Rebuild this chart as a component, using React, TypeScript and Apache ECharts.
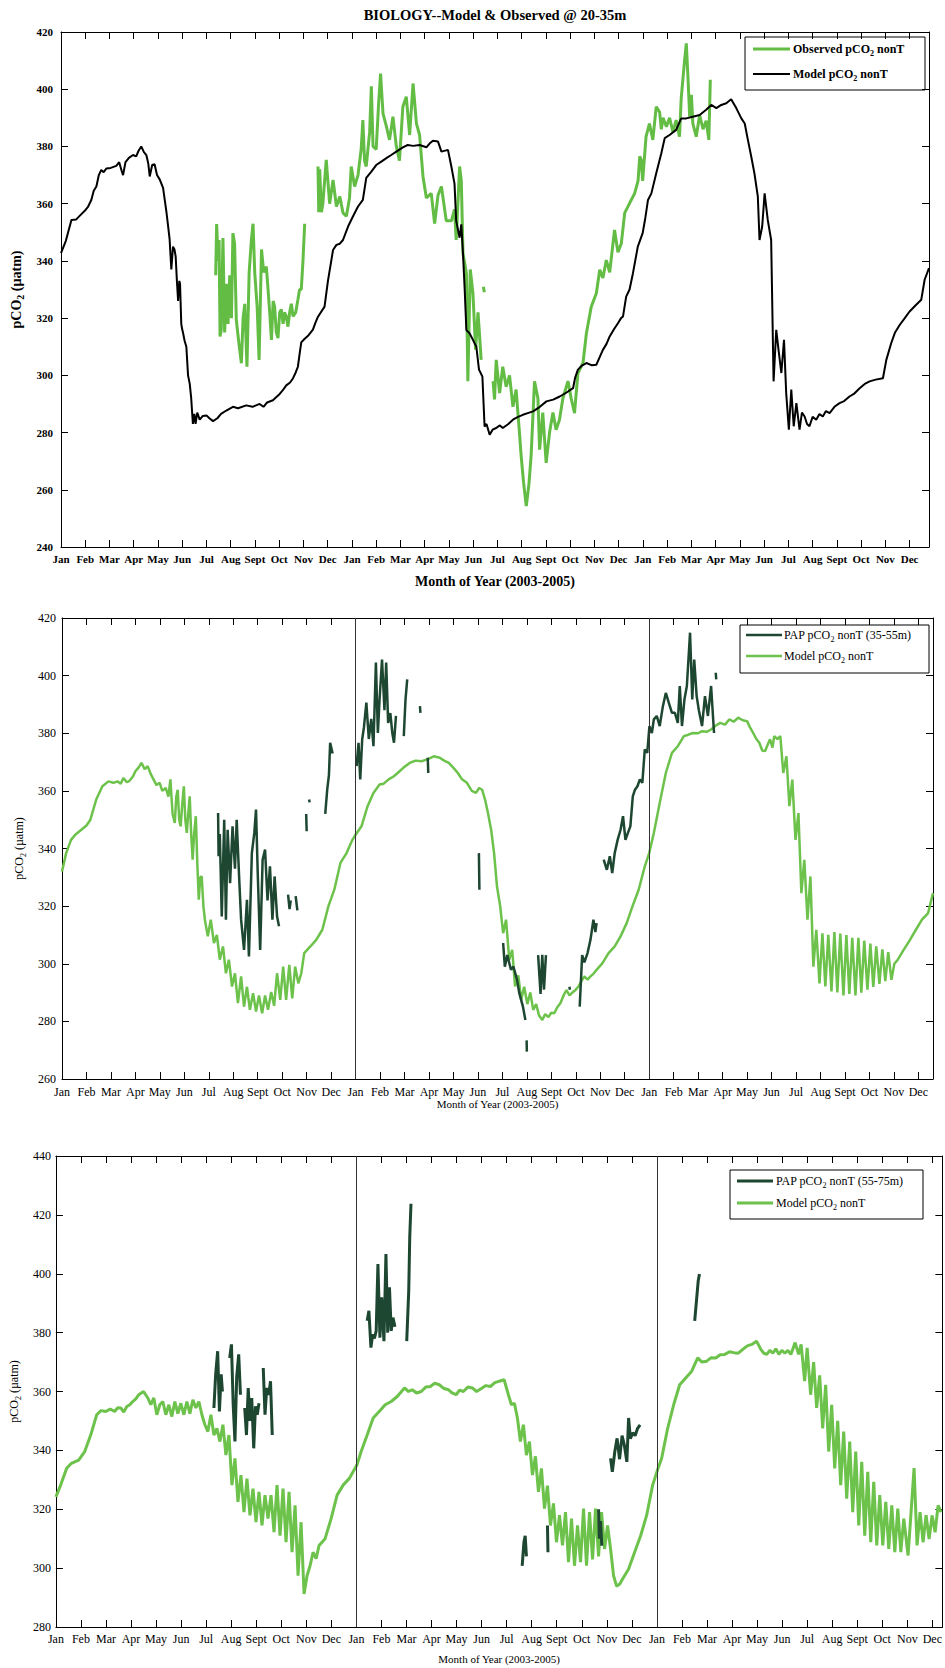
import { useEffect, useRef } from 'react';
import * as echarts from 'echarts';

type Pt = [number, number];

// Month index (0 = Jan 2003) on x, pCO2 in µatm on y.
const MONTHS = ['Jan', 'Feb', 'Mar', 'Apr', 'May', 'Jun', 'Jul', 'Aug', 'Sept', 'Oct', 'Nov', 'Dec'];
const TITLE = 'BIOLOGY--Model & Observed @ 20-35m';
const X_TITLE = 'Month of Year (2003-2005)';
const Y_TITLE = 'pCO{s|2} (µatm)';

// ---------- Panel 1: 20-35 m ----------
const p1Model2003: Pt[] = [
  [0, 342.7], [0.2, 347], [0.43, 354.3], [0.63, 354.5], [0.8, 356], [0.98, 357.5], [1.12, 359], [1.25, 361.3], [1.35, 364.5],
  [1.46, 366], [1.56, 370], [1.66, 371.8], [1.76, 371], [1.87, 372.3], [2.05, 372.5], [2.28, 373.2], [2.4, 374.5], [2.5, 371.5],
  [2.56, 370], [2.66, 374.5], [2.8, 376], [2.97, 377], [3.1, 376.5], [3.2, 378.5], [3.31, 380], [3.42, 378], [3.52, 377], [3.6, 374],
  [3.66, 369.5], [3.76, 373.5], [3.86, 373.8], [3.96, 370], [4.07, 368.5], [4.21, 365.5], [4.3, 360], [4.35, 357], [4.42, 352],
  [4.48, 347.5], [4.55, 337], [4.62, 345], [4.68, 344], [4.73, 341.5], [4.78, 333], [4.83, 326], [4.88, 333], [4.91, 332],
  [4.96, 318], [5.0, 316], [5.03, 315], [5.1, 312], [5.17, 310], [5.24, 300], [5.31, 297], [5.37, 292], [5.44, 283], [5.5, 286.5],
  [5.55, 283], [5.62, 287], [5.72, 284.5], [5.85, 285.8], [6.0, 286], [6.12, 285], [6.27, 284], [6.45, 285], [6.6, 286.5],
  [6.82, 287.7], [7.09, 289], [7.3, 288.5], [7.64, 289.5], [7.9, 289], [8.19, 290], [8.35, 289], [8.5, 290.5], [8.74, 291.3],
  [9.02, 293.5], [9.15, 294.8], [9.29, 296.5], [9.45, 297.5], [9.57, 299], [9.68, 301], [9.77, 303], [9.85, 308], [9.91, 311.5],
  [10.05, 312.8], [10.19, 313.8], [10.3, 315], [10.39, 316], [10.5, 318.5], [10.6, 320.5], [10.87, 324],
];
const p1Model2004: Pt[] = [
  [11.01, 333], [11.22, 343.8], [11.36, 345.6], [11.5, 346], [11.63, 347.3], [11.84, 352], [12.04, 355.5], [12.25, 359],
  [12.45, 361.3], [12.59, 369], [12.8, 371.2], [13.0, 373.5], [13.21, 374.7], [13.42, 375.9], [13.62, 377], [13.83, 378.2],
  [14.1, 379.7], [14.3, 380.5], [14.52, 380.2], [14.79, 380.5], [15.07, 379.7], [15.2, 381], [15.34, 382], [15.55, 381.7],
  [15.69, 378.2], [15.96, 378.8], [16.1, 373], [16.23, 367], [16.3, 354], [16.44, 348.1], [16.51, 352.8], [16.58, 342.6],
  [16.65, 330], [16.72, 315.8], [16.85, 314.7], [16.99, 312.4], [17.13, 310], [17.24, 302], [17.38, 299.6], [17.47, 282.1],
  [17.55, 283], [17.68, 279.2], [17.8, 281], [17.95, 281.6], [18.1, 282.5], [18.22, 281.6], [18.45, 283], [18.64, 284.5],
  [18.85, 285.5], [19.05, 286.2], [19.25, 286.8], [19.47, 287.4], [19.75, 289], [20.02, 290.9], [20.3, 291.5], [20.57, 292.6],
  [20.85, 294], [21.12, 295.5], [21.2, 299], [21.32, 302], [21.5, 303.5], [21.67, 304.3], [21.9, 303.5], [22.08, 303.7],
  [22.2, 306], [22.35, 308.9], [22.5, 311], [22.63, 313.6], [22.8, 316], [22.97, 318.2],
];
const p1Model2005: Pt[] = [
  [23.1, 320], [23.18, 320.6], [23.31, 327.5], [23.45, 330], [23.59, 335.7], [23.79, 345], [23.99, 349.7], [24.1, 355],
  [24.21, 361.3], [24.35, 363.6], [24.55, 370.6], [24.76, 377.6], [24.9, 382.9], [25.1, 384], [25.37, 385.8], [25.58, 389.8],
  [25.79, 389.8], [26.06, 390.4], [26.34, 391], [26.61, 392.8], [26.82, 394.5], [27.03, 393.4], [27.23, 394.5], [27.44, 395.1],
  [27.64, 396.5], [27.85, 393.4], [28.06, 389.8], [28.2, 388], [28.33, 382.3], [28.47, 376.4], [28.6, 370.6], [28.74, 362.5],
  [28.81, 347.3], [28.92, 352], [29.02, 363.6], [29.15, 354.3], [29.29, 347.3], [29.39, 297.9], [29.5, 315.9], [29.61, 307.8],
  [29.71, 300.8], [29.82, 312.4], [29.91, 293.8], [30.02, 281], [30.12, 295], [30.22, 282.2], [30.33, 290.3], [30.46, 281],
  [30.56, 287], [30.67, 285.6], [30.77, 283], [30.87, 282.2], [31.0, 285.5], [31.15, 284.5], [31.28, 286.5], [31.42, 285.6],
  [31.55, 287.5], [31.7, 286.8], [31.9, 289], [32.11, 290.3], [32.3, 291], [32.52, 292.6], [32.7, 293.5], [32.94, 295.5],
  [33.15, 297], [33.35, 297.9], [33.6, 298.5], [33.9, 299], [34.04, 305.4], [34.24, 311.2], [34.4, 315], [34.59, 317.6],
  [34.8, 320], [35.0, 322.3], [35.25, 324.5], [35.48, 326.4], [35.62, 333.4], [35.8, 337.5],
];
const p1Obs2003: Pt[] = [
  [6.38, 335], [6.42, 352.9], [6.48, 340], [6.52, 347.3], [6.56, 313.6], [6.61, 316], [6.68, 348], [6.75, 315], [6.82, 332],
  [6.89, 318], [6.96, 335], [7.03, 320], [7.09, 349.7], [7.16, 346], [7.23, 319.4], [7.34, 311], [7.44, 304.2], [7.51, 320],
  [7.58, 325], [7.67, 303], [7.76, 336], [7.85, 347], [7.92, 353], [7.99, 336], [8.09, 324], [8.17, 305.4], [8.27, 344],
  [8.36, 336], [8.47, 338], [8.54, 330], [8.61, 321.7], [8.68, 312.4], [8.75, 326], [8.81, 324], [8.88, 315], [8.95, 313],
  [9.02, 322], [9.09, 323], [9.16, 318], [9.22, 322], [9.29, 320.6], [9.36, 317], [9.43, 322], [9.5, 325], [9.57, 320.6],
  [9.68, 322], [9.77, 326.4], [9.84, 330], [9.91, 330], [9.98, 340], [10.05, 353],
];
const p1Obs2004a: Pt[] = [
  [10.6, 373], [10.63, 357], [10.67, 372], [10.74, 357], [10.8, 360], [10.94, 375.3], [11.08, 360], [11.22, 368.3], [11.36, 359],
  [11.5, 362.5], [11.63, 356.8], [11.77, 355.6], [11.9, 362], [11.97, 373], [12.11, 366], [12.25, 370], [12.38, 379],
  [12.45, 389.2], [12.52, 375], [12.59, 373], [12.73, 385], [12.8, 401], [12.87, 380], [13.0, 379], [13.1, 395], [13.18, 405.5],
  [13.28, 391.6], [13.42, 387], [13.55, 382.3], [13.69, 390.4], [13.83, 380], [13.96, 375], [14.1, 393.9], [14.24, 397.4],
  [14.38, 384], [14.52, 402], [14.66, 388], [14.79, 384], [14.93, 369.5], [15.07, 362], [15.27, 363.6], [15.41, 353],
  [15.55, 363], [15.69, 366], [15.89, 354], [16.1, 354], [16.23, 358], [16.3, 347.3], [16.44, 373], [16.51, 368],
  [16.58, 342.6], [16.72, 335.7], [16.78, 297.9], [16.88, 337], [16.99, 328.7], [17.1, 309], [17.2, 322], [17.33, 305.4],
];
const p1ObsJun2004: Pt[] = [[17.42, 331], [17.46, 329]];
const p1Obs2004b: Pt[] = [
  [17.82, 298], [17.88, 291.6], [17.95, 305.4], [18.09, 293.8], [18.22, 303], [18.36, 296], [18.5, 300], [18.64, 289],
  [18.77, 295], [18.91, 279.8], [18.98, 271.7], [19.08, 262.4], [19.19, 254.3], [19.3, 262], [19.39, 272], [19.53, 297.9],
  [19.67, 292], [19.74, 274], [19.87, 287], [20.01, 269.4], [20.15, 280], [20.29, 287], [20.42, 281], [20.56, 284.5],
  [20.7, 292], [20.91, 298], [21.04, 292], [21.18, 286.8], [21.32, 300.8], [21.53, 304.3], [21.67, 314.7], [21.87, 324],
  [22.08, 328.7], [22.22, 336.9], [22.35, 334], [22.49, 340.3], [22.63, 336], [22.83, 350.8], [22.97, 343], [23.11, 346.1],
  [23.25, 356.8], [23.46, 360.3], [23.66, 363.6], [23.8, 368], [23.87, 376.5], [23.93, 375.3], [23.99, 368], [24.13, 383.4],
  [24.27, 388], [24.41, 382.3], [24.55, 393.9], [24.69, 392], [24.76, 386], [24.83, 390], [24.97, 386.9], [25.1, 390],
  [25.24, 385], [25.37, 389.2], [25.51, 383.4], [25.58, 396.8], [25.72, 410.2], [25.79, 416], [25.86, 404], [25.93, 390.4],
  [26.0, 398], [26.06, 388], [26.2, 383.4], [26.34, 391], [26.48, 386], [26.61, 389], [26.72, 382.3], [26.78, 403.3],
];

// ---------- Panel 2: 35-55 m ----------
const p2Model2003: Pt[] = [
  [0, 332], [0.17, 338.4], [0.37, 343], [0.54, 344.8], [0.79, 346.5], [1.0, 348], [1.16, 350], [1.4, 357], [1.65, 361.6],
  [1.9, 363.3], [2.1, 362.8], [2.27, 363.3], [2.4, 362.5], [2.51, 364.5], [2.65, 363], [2.76, 363.5], [2.9, 365], [3.0, 366.8],
  [3.12, 368], [3.25, 369.7], [3.38, 367.5], [3.5, 368.6], [3.62, 366], [3.74, 364], [3.86, 362], [3.99, 362.8], [4.1, 360],
  [4.24, 361], [4.35, 358], [4.43, 364], [4.52, 352], [4.61, 348.9], [4.67, 358], [4.73, 360.4], [4.79, 350], [4.85, 347.7],
  [4.92, 356], [4.98, 361.6], [5.04, 350], [5.1, 345.4], [5.16, 352], [5.22, 358.1], [5.28, 345], [5.34, 336.1], [5.4, 345],
  [5.47, 351.2], [5.53, 335], [5.59, 322.2], [5.65, 330], [5.71, 330.3], [5.78, 320], [5.84, 315.3], [5.96, 309.5],
  [6.08, 315.3], [6.21, 307.2], [6.33, 310], [6.45, 301.4], [6.58, 306], [6.7, 296.7], [6.82, 301.4], [6.95, 292.1],
  [7.07, 296.7], [7.19, 286.3], [7.32, 295.6], [7.44, 285.1], [7.56, 292], [7.68, 284], [7.81, 289.8], [7.93, 283.4],
  [8.05, 289], [8.18, 282.8], [8.3, 289], [8.42, 284], [8.55, 290.2], [8.67, 285.4], [8.79, 296.7], [8.92, 287.5], [9.04, 299],
  [9.16, 287.5], [9.29, 299.6], [9.41, 288], [9.53, 299], [9.66, 293.2], [9.78, 296.7], [9.9, 303.7], [10.15, 306],
  [10.39, 308.3], [10.64, 311.8], [10.89, 320], [11.13, 325.7], [11.38, 335], [11.63, 338.4], [11.87, 343], [12, 344.8],
];
const p2Model2004: Pt[] = [
  [12.24, 347.7], [12.49, 354.7], [12.73, 359.3], [12.98, 362.2], [13.15, 362.5], [13.35, 364], [13.55, 365], [13.72, 366.2],
  [13.95, 368], [14.21, 369.7], [14.45, 370.5], [14.7, 370.3], [14.95, 371], [15.2, 372], [15.44, 371.5], [15.62, 370.5],
  [15.81, 369.7], [16.0, 368], [16.18, 366.2], [16.35, 364], [16.55, 362.8], [16.75, 360], [16.92, 359.3], [17.05, 361],
  [17.17, 360.4], [17.29, 357], [17.41, 352.3], [17.54, 346.5], [17.66, 338.4], [17.78, 326.8], [17.91, 320], [18.03, 310.6],
  [18.15, 315.3], [18.28, 301.4], [18.4, 304.8], [18.52, 292.1], [18.65, 296], [18.77, 287.5], [18.89, 292], [19.02, 286],
  [19.14, 290], [19.26, 284], [19.38, 286], [19.5, 282], [19.63, 280.5], [19.75, 282.5], [19.88, 281.5], [20.0, 283],
  [20.12, 282.8], [20.25, 285], [20.37, 286.3], [20.5, 289], [20.62, 290.9], [20.74, 289], [20.86, 290], [21.0, 291],
  [21.11, 292.1], [21.23, 294], [21.35, 295.6], [21.48, 294.5], [21.6, 295.6], [21.72, 296.5], [21.85, 297.9], [22.09, 300.2],
  [22.34, 303.7], [22.59, 306], [22.83, 309.5], [23.08, 314.1], [23.32, 320], [23.57, 325.7], [23.82, 333.8], [24.0, 338.4],
];
const p2Model2005: Pt[] = [
  [24.19, 345.4], [24.43, 355.8], [24.68, 366.2], [24.93, 373.2], [25.17, 375.5], [25.42, 379], [25.6, 379.5], [25.79, 380.1],
  [26.0, 380], [26.16, 380.7], [26.35, 380.5], [26.53, 381.3], [26.7, 382.5], [26.9, 383.6], [27.1, 383], [27.27, 384.8],
  [27.45, 384], [27.64, 385.4], [27.82, 384.5], [28.0, 384.2], [28.12, 382], [28.25, 380.1], [28.38, 378], [28.5, 376.7],
  [28.62, 374], [28.74, 373.8], [28.84, 376], [28.94, 377.9], [29.04, 375], [29.11, 379], [29.24, 378], [29.36, 379],
  [29.48, 366.2], [29.61, 372], [29.73, 354.7], [29.85, 363.9], [29.98, 343], [30.1, 352.3], [30.22, 324.5], [30.34, 336.1],
  [30.47, 315.3], [30.59, 330.3], [30.71, 299], [30.83, 311.8], [30.96, 293.2], [31.08, 310.6], [31.2, 292.1], [31.32, 310],
  [31.45, 290.4], [31.57, 311], [31.69, 290], [31.81, 310.5], [31.94, 289], [32.06, 310], [32.18, 289.5], [32.3, 309],
  [32.43, 289], [32.55, 309], [32.67, 290], [32.79, 308], [32.92, 291], [33.04, 307], [33.16, 292], [33.28, 306], [33.41, 293],
  [33.53, 305], [33.65, 294], [33.77, 304], [33.9, 294.4], [34.02, 300], [34.16, 301.4], [34.4, 304.8], [34.66, 308.3],
  [34.9, 311.8], [35.15, 315.3], [35.4, 317.6], [35.6, 324.5],
];
const p2ObsJulSep2003: Pt[] = [
  [6.38, 352.3], [6.4, 337.3], [6.45, 345], [6.53, 316.4], [6.63, 350], [6.7, 315.3], [6.77, 346.5], [6.87, 328], [6.97, 347.7],
  [7.07, 333], [7.14, 350], [7.24, 330], [7.32, 315.3], [7.44, 304.8], [7.56, 322.2], [7.64, 302.5], [7.76, 338.4],
  [7.86, 345.4], [7.93, 353.5], [8.0, 331.5], [8.1, 304.8], [8.2, 336.1], [8.3, 339.6], [8.4, 322], [8.5, 333.8], [8.6, 315.3],
  [8.69, 330.3], [8.79, 316.4], [8.87, 313],
];
const p2ObsOct2003: Pt[] = [[9.24, 324], [9.3, 319], [9.35, 322]];
const p2ObsOct2003b: Pt[] = [[9.55, 323.5], [9.62, 318.5]];
const p2ObsNov2003: Pt[] = [[9.98, 352], [10.0, 346]];
const p2ObsNov2003b: Pt[] = [[10.1, 357], [10.12, 356]];
const p2ObsDec2003: Pt[] = [[10.76, 352], [10.84, 360.4], [10.91, 365.5], [10.96, 376.7], [11.06, 373]];
const p2ObsJanMar2004: Pt[] = [
  [12.04, 368.6], [12.12, 376.7], [12.19, 364], [12.27, 377.9], [12.34, 382], [12.44, 390.6], [12.54, 378], [12.64, 385],
  [12.73, 375.5], [12.83, 404.5], [12.91, 380.1], [12.98, 391.7], [13.08, 405.6], [13.18, 388], [13.25, 404.5], [13.33, 383.6],
  [13.42, 387], [13.5, 380.1], [13.57, 376.7], [13.65, 386],
];
const p2ObsMar2004: Pt[] = [[13.97, 379], [14.04, 391.7], [14.11, 398.7]];
const p2ObsApr2004: Pt[] = [[14.63, 389.4], [14.65, 387.1]];
const p2ObsApr2004b: Pt[] = [[14.95, 371.5], [14.97, 366.2]];
const p2ObsJun2004: Pt[] = [[17.04, 338.4], [17.06, 325.7]];
const p2ObsJul2004: Pt[] = [
  [18.03, 307.2], [18.1, 299], [18.2, 303], [18.35, 297.9], [18.45, 299], [18.6, 294.4], [18.69, 289.8], [18.84, 285.1], [18.94, 280.5],
];
const p2ObsAug2004: Pt[] = [[18.99, 273.4], [19.0, 269.5]];
const p2ObsAug2004b: Pt[] = [[19.46, 303], [19.56, 289.5], [19.63, 303.1], [19.7, 291], [19.78, 303]];
const p2ObsSep2004: Pt[] = [[20.74, 292], [20.76, 291]];
const p2ObsOct2004: Pt[] = [
  [21.16, 285.1], [21.26, 303], [21.35, 300.5], [21.48, 303.7], [21.6, 308.3], [21.72, 315.3], [21.8, 311], [21.85, 314.1],
];
const p2ObsNov2004Apr2005: Pt[] = [
  [22.14, 336.1], [22.27, 332.6], [22.39, 337.3], [22.49, 331.5], [22.59, 338.4], [22.71, 343], [22.83, 346.5], [22.93, 351.2],
  [23.03, 343], [23.13, 345.4], [23.23, 347.7], [23.33, 358.1], [23.42, 360.4], [23.52, 361.6], [23.62, 364], [23.72, 362.8],
  [23.82, 374.4], [23.92, 373.2], [24.01, 382.5], [24.11, 380.1], [24.19, 384.8], [24.31, 386], [24.43, 382.5], [24.56, 389.4],
  [24.68, 394], [24.8, 390.6], [24.93, 387.1], [25.05, 387.1], [25.17, 383.6], [25.25, 396.4], [25.34, 382.5], [25.44, 391.7],
  [25.54, 396.4], [25.67, 414.9], [25.76, 391.7], [25.84, 405.6], [25.94, 392.9], [26.03, 388], [26.16, 382.5], [26.28, 392.9],
  [26.4, 386], [26.53, 396.4], [26.65, 380.1],
];
const p2ObsApr2005: Pt[] = [[26.72, 401], [26.74, 398.7]];

// ---------- Panel 3: 55-75 m ----------
const p3Model2003: Pt[] = [
  [0, 324.2], [0.19, 328.2], [0.43, 333.9], [0.62, 335.6], [0.91, 336.7], [1.15, 339.6], [1.39, 345.2], [1.63, 352.1],
  [1.8, 353.5], [1.99, 353.2], [2.17, 354], [2.35, 353.2], [2.47, 354.5], [2.59, 354.4], [2.71, 353], [2.83, 354.9],
  [2.95, 355.5], [3.07, 356.6], [3.19, 357.5], [3.31, 358.9], [3.5, 360], [3.67, 357.8], [3.79, 355.5], [3.91, 357.8],
  [4.03, 352.1], [4.15, 355.5], [4.27, 356.6], [4.39, 352.1], [4.51, 355.5], [4.63, 351.5], [4.75, 356.6], [4.87, 352.5],
  [4.99, 356], [5.11, 352.1], [5.23, 356.6], [5.35, 352.5], [5.47, 357.2], [5.59, 354.4], [5.71, 356.6], [5.83, 352.1],
  [5.95, 348.7], [6.07, 346.4], [6.19, 352.1], [6.31, 345.2], [6.43, 347.5], [6.55, 343], [6.67, 348.7], [6.79, 338.4],
  [6.91, 345.2], [7.03, 328.2], [7.15, 337.3], [7.27, 322.5], [7.39, 331.6], [7.51, 319], [7.63, 330.4], [7.75, 317.9],
  [7.87, 327], [7.99, 315.6], [8.11, 325.9], [8.23, 314.5], [8.35, 324.8], [8.47, 316.8], [8.59, 324.8], [8.71, 312.2],
  [8.83, 328.2], [8.95, 311], [9.07, 327], [9.19, 308.8], [9.31, 325.9], [9.43, 305.4], [9.55, 321.3], [9.67, 297.4],
  [9.79, 315.6], [9.91, 291.2], [10.03, 297.4], [10.15, 300.8], [10.27, 305.4], [10.39, 303.2], [10.51, 307.7], [10.75, 310],
  [10.99, 316.8], [11.23, 324.8], [11.47, 328.2], [11.71, 330.4], [12.02, 335],
];
const p3Model2004: Pt[] = [
  [12.19, 339.6], [12.43, 345.2], [12.67, 351], [12.91, 353.2], [13.15, 355.5], [13.39, 356.6], [13.63, 358.3], [13.92, 361.2],
  [14.08, 360], [14.23, 360.6], [14.4, 359.5], [14.59, 360], [14.77, 361.5], [14.95, 361.7], [15.13, 362.8], [15.31, 362.3],
  [15.5, 361], [15.67, 360.6], [15.82, 359.5], [15.98, 358.9], [16.12, 360.5], [16.27, 360], [16.45, 361.5], [16.63, 361.2],
  [16.8, 360], [16.99, 361], [17.17, 362], [17.35, 361.7], [17.53, 363], [17.71, 363.5], [17.9, 364], [18.07, 358.9],
  [18.19, 355.5], [18.31, 356], [18.43, 351], [18.55, 343], [18.67, 348.7], [18.79, 338.4], [18.91, 343], [19.03, 331.6],
  [19.15, 338], [19.27, 325.9], [19.39, 333.9], [19.51, 320.2], [19.63, 328], [19.75, 314.5], [19.87, 322], [19.99, 308.8],
  [20.11, 318], [20.23, 307.7], [20.35, 319], [20.47, 302], [20.59, 316.8], [20.71, 300.8], [20.83, 314.5], [20.95, 302],
  [21.07, 320.2], [21.19, 300.8], [21.31, 319], [21.43, 303], [21.55, 320.2], [21.67, 304], [21.79, 319], [21.91, 306.5],
  [22.03, 314.5], [22.15, 306.5], [22.27, 297.4], [22.39, 293.9], [22.51, 294.5], [22.63, 296.3], [22.87, 299.7],
  [23.11, 305.4], [23.35, 311], [23.59, 317.9], [23.83, 328.2], [24.0, 332.7],
];
const p3Model2005: Pt[] = [
  [24.19, 337.3], [24.43, 347.5], [24.67, 355.5], [24.91, 362.3], [25.15, 364.6], [25.39, 366.9], [25.63, 371.4], [25.8, 370],
  [25.99, 370.3], [26.17, 371.5], [26.35, 371.4], [26.53, 372.5], [26.71, 372.6], [26.9, 373.5], [27.07, 373.2], [27.25, 373],
  [27.43, 374.3], [27.61, 375.5], [27.79, 376], [27.98, 377.1], [28.15, 374.3], [28.27, 373], [28.39, 372.6], [28.51, 374],
  [28.63, 373], [28.75, 374.5], [28.87, 372.6], [28.99, 374], [29.11, 373], [29.23, 374], [29.35, 372.6], [29.52, 376.6],
  [29.66, 372.6], [29.76, 376], [29.9, 363.5], [30.0, 374.8], [30.14, 358.9], [30.26, 370], [30.38, 354.4], [30.5, 365.5],
  [30.62, 347.5], [30.74, 362.3], [30.86, 339.6], [30.98, 355.5], [31.1, 333.9], [31.22, 350], [31.34, 328.2], [31.46, 346.4],
  [31.58, 323.6], [31.7, 343], [31.82, 319], [31.94, 339.6], [32.06, 314.5], [32.18, 336.1], [32.3, 311], [32.42, 332.7],
  [32.54, 308.8], [32.66, 329.3], [32.78, 307.7], [32.9, 324.8], [33.02, 307.7], [33.14, 322.5], [33.26, 306.5], [33.38, 321.3],
  [33.5, 305.4], [33.62, 320.2], [33.74, 305.4], [33.86, 316.8], [34.03, 304.3], [34.15, 319], [34.27, 334], [34.39, 307.7],
  [34.51, 319], [34.63, 308.8], [34.75, 318], [34.87, 309.9], [34.99, 317.9], [35.11, 312.2], [35.23, 321.3], [35.35, 319],
];
const p3ObsJul2003: Pt[] = [[6.31, 354.4], [6.38, 365.8], [6.46, 373.7], [6.53, 353.2], [6.6, 365.8], [6.65, 360]];
const p3ObsAug2003: Pt[] = [[6.94, 371.4], [7.01, 376], [7.08, 355.5], [7.15, 343], [7.22, 365], [7.3, 372.6], [7.37, 358.9]];
const p3ObsSep2003: Pt[] = [
  [7.54, 354.4], [7.61, 345.2], [7.68, 361.2], [7.75, 350], [7.82, 357.8], [7.9, 340.7], [7.97, 355], [8.04, 352.1], [8.11, 356],
];
const p3ObsSep2003b: Pt[] = [[8.28, 368], [8.35, 352.1], [8.42, 361.2], [8.5, 358.9], [8.57, 363.5], [8.64, 345.2]];
const p3ObsFeb2004: Pt[] = [
  [12.43, 384], [12.5, 387.4], [12.58, 374.9], [12.65, 379.4], [12.72, 378], [12.79, 380.6], [12.86, 403.3], [12.94, 378.3],
  [13.01, 392], [13.1, 377.1], [13.18, 406.7], [13.25, 380], [13.32, 395.4], [13.39, 380.6], [13.46, 385.1], [13.54, 382],
];
const p3ObsMar2004: Pt[] = [[14.01, 377.1], [14.09, 394.2], [14.13, 412.4], [14.18, 423.8]];
const p3ObsAug2004: Pt[] = [[18.62, 300.8], [18.69, 308.8], [18.74, 311], [18.79, 304]];
const p3ObsSep2004: Pt[] = [[19.63, 314.5], [19.65, 305.4]];
const p3ObsNov2004: Pt[] = [[21.67, 320], [21.7, 310], [21.75, 316], [21.8, 307.6]];
const p3ObsDec2004: Pt[] = [
  [22.15, 337.3], [22.22, 332.7], [22.32, 339.6], [22.41, 344.1], [22.51, 337], [22.61, 345], [22.7, 341.8], [22.8, 336.1],
  [22.87, 351], [22.94, 344], [23.04, 346], [23.13, 345], [23.23, 347.5], [23.33, 348.7],
];
const p3ObsFeb2005: Pt[] = [[25.51, 384], [25.58, 390.8], [25.65, 397.6], [25.7, 399.9]];

const SERIF = 'Liberation Serif, Times New Roman, Times, serif';
const GREEN_OBS = '#63bd45';
const GREEN_MODEL = '#6cc24b';
const DARK_GREEN = '#1d4731';

// Observed records are broken into runs; a null y between runs leaves a gap.
function joinSegments(segs: Pt[][]): (number | null)[][] {
  const out: (number | null)[][] = [];
  segs.forEach((s, i) => {
    if (i > 0) out.push([s[0][0], null]);
    s.forEach((p) => out.push([p[0], p[1]]));
  });
  return out;
}

const monthLabel = (v: number) => (Number.isInteger(v) && v >= 0 && v < 36 ? MONTHS[v % 12] : '');

const LAYOUT = [
  { left: 61, top: 32, width: 868, height: 515, xMax: 35.8, yMin: 240, yMax: 420, weight: 'bold', tick: 11, xName: 14, yName: 14, xLabelMargin: 6, xNameGap: 27, yLabelMargin: 8, yNameGap: 32 },
  { left: 62, top: 618, width: 871, height: 461, xMax: 35.6, yMin: 260, yMax: 420, weight: 'normal', tick: 12, xName: 11, yName: 12, xLabelMargin: 7, xNameGap: 19, yLabelMargin: 6, yNameGap: 29 },
  { left: 55, top: 1156, width: 888, height: 471, xMax: 35.4, yMin: 280, yMax: 440, weight: 'normal', tick: 12, xName: 11, yName: 12, xLabelMargin: 6, xNameGap: 26, yLabelMargin: 5, yNameGap: 31 },
];

function buildOption() {
  const axisLine = { show: true, onZero: false, lineStyle: { color: '#000', width: 1 } };
  const tick = { show: true, inside: true, length: 7, lineStyle: { color: '#000', width: 1 } };
  const grid: any[] = [];
  const xAxis: any[] = [];
  const yAxis: any[] = [];
  LAYOUT.forEach((L, g) => {
    grid.push({ left: L.left, top: L.top, width: L.width, height: L.height, containLabel: false });
    const txt = { color: '#000', fontFamily: SERIF, fontWeight: L.weight as any };
    xAxis.push({
      type: 'value', gridIndex: g, position: 'bottom', min: 0, max: L.xMax, interval: 1,
      axisLine, axisTick: tick, splitLine: { show: false },
      axisLabel: { ...txt, fontSize: L.tick, margin: L.xLabelMargin, formatter: monthLabel, showMaxLabel: false },
      name: X_TITLE, nameLocation: 'middle', nameGap: L.xNameGap,
      nameTextStyle: { ...txt, fontSize: L.xName },
    });
    xAxis.push({
      type: 'value', gridIndex: g, position: 'top', min: 0, max: L.xMax, interval: 1,
      axisLine, axisTick: tick, splitLine: { show: false }, axisLabel: { show: false },
    });
    yAxis.push({
      type: 'value', gridIndex: g, position: 'left', min: L.yMin, max: L.yMax, interval: 20,
      axisLine, axisTick: tick, splitLine: { show: false },
      axisLabel: { ...txt, fontSize: L.tick, margin: L.yLabelMargin },
      name: Y_TITLE, nameLocation: 'middle', nameGap: L.yNameGap,
      nameTextStyle: {
        ...txt, fontSize: L.yName,
        rich: { s: { ...txt, fontSize: L.yName - 4, padding: [8, 0, 0, 0] } },
      },
    });
    yAxis.push({
      type: 'value', gridIndex: g, position: 'right', min: L.yMin, max: L.yMax, interval: 20,
      axisLine, axisTick: tick, splitLine: { show: false }, axisLabel: { show: false },
    });
  });

  const line = (g: number, data: any[], color: string, width: number, z: number, extra: any = {}) => ({
    type: 'line', xAxisIndex: g * 2, yAxisIndex: g * 2, data, symbol: 'none', showSymbol: false,
    connectNulls: false, silent: true, z, lineStyle: { color, width }, itemStyle: { color }, ...extra,
  });
  const yearLines = {
    markLine: {
      silent: true, symbol: ['none', 'none'], label: { show: false },
      lineStyle: { color: '#333', width: 1, type: 'solid' },
      data: [{ xAxis: 12 }, { xAxis: 24 }],
    },
  };

  const series = [
    line(0, joinSegments([p1Obs2003, p1Obs2004a, p1ObsJun2004, p1Obs2004b]), GREEN_OBS, 3, 2),
    line(0, [...p1Model2003, ...p1Model2004, ...p1Model2005], '#000', 2, 3),
    line(1, [...p2Model2003, ...p2Model2004, ...p2Model2005], GREEN_MODEL, 2.5, 2, yearLines),
    line(1, joinSegments([
      p2ObsJulSep2003, p2ObsOct2003, p2ObsOct2003b, p2ObsNov2003, p2ObsNov2003b, p2ObsDec2003, p2ObsJanMar2004,
      p2ObsMar2004, p2ObsApr2004, p2ObsApr2004b, p2ObsJun2004, p2ObsJul2004, p2ObsAug2004, p2ObsAug2004b,
      p2ObsSep2004, p2ObsOct2004, p2ObsNov2004Apr2005, p2ObsApr2005,
    ]), DARK_GREEN, 2.5, 3),
    line(2, [...p3Model2003, ...p3Model2004, ...p3Model2005], GREEN_MODEL, 3, 2, yearLines),
    line(2, joinSegments([
      p3ObsJul2003, p3ObsAug2003, p3ObsSep2003, p3ObsSep2003b, p3ObsFeb2004, p3ObsMar2004, p3ObsAug2004,
      p3ObsSep2004, p3ObsNov2004, p3ObsDec2004, p3ObsFeb2005,
    ]), DARK_GREEN, 3, 3),
  ];

  const legend = (
    box: [number, number, number, number],
    rows: { y: number; color: string; width: number; label: string }[],
    lineX: [number, number], textX: number, weight: string,
  ) => ({
    type: 'group', z: 100,
    children: [
      { type: 'rect', shape: { x: box[0], y: box[1], width: box[2], height: box[3] }, style: { fill: '#fff', stroke: '#000', lineWidth: 1 } },
      ...rows.flatMap((r) => [
        { type: 'line', shape: { x1: lineX[0], y1: r.y, x2: lineX[1], y2: r.y }, style: { stroke: r.color, lineWidth: r.width } },
        {
          type: 'text',
          style: {
            x: textX, y: r.y, text: r.label, fill: '#000', fontFamily: SERIF, fontSize: 12, fontWeight: weight,
            verticalAlign: 'middle', align: 'left',
            rich: { s: { fontFamily: SERIF, fontSize: 8, fontWeight: weight, fill: '#000', padding: [8, 0, 0, 0] } },
          },
        },
      ]),
    ],
  });

  const graphic = [
    {
      type: 'text', z: 100,
      style: { x: 495, y: 15, text: TITLE, fill: '#000', fontFamily: SERIF, fontSize: 14.5, fontWeight: 'bold', align: 'center', verticalAlign: 'middle' },
    },
    legend([745, 37, 180, 53], [
      { y: 49, color: GREEN_OBS, width: 3, label: 'Observed pCO{s|2} nonT' },
      { y: 74, color: '#000', width: 2, label: 'Model pCO{s|2} nonT' },
    ], [753, 790], 793, 'bold'),
    legend([740, 625, 189, 48], [
      { y: 635, color: DARK_GREEN, width: 2.5, label: 'PAP pCO{s|2} nonT (35-55m)' },
      { y: 656, color: GREEN_MODEL, width: 2.5, label: 'Model pCO{s|2} nonT' },
    ], [746, 782], 784, 'normal'),
    legend([730, 1170, 193, 49], [
      { y: 1181, color: DARK_GREEN, width: 3, label: 'PAP pCO{s|2} nonT (55-75m)' },
      { y: 1203, color: GREEN_MODEL, width: 3, label: 'Model pCO{s|2} nonT' },
    ], [737, 773], 776, 'normal'),
  ];

  return { animation: false, backgroundColor: '#fff', grid, xAxis, yAxis, series, graphic };
}

export default function App() {
  const ref = useRef<HTMLDivElement>(null);
  useEffect(() => {
    document.body.style.margin = '0';
    if (!ref.current) return;
    const chart = echarts.init(ref.current, undefined, { renderer: 'svg' });
    chart.setOption(buildOption() as any);
    return () => chart.dispose();
  }, []);
  return <div ref={ref} style={{ width: 945, height: 1668 }} />;
}
